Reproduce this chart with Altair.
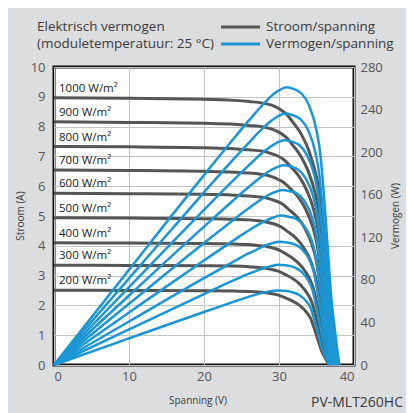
import altair as alt
import pandas as pd

FONT = "Open Sans"

irradiance = ["1000", "900", "800", "700", "600", "500", "400", "300", "200"]

v_1000 = [0, 10, 20, 24, 26, 28, 29, 30, 31, 32, 33, 34, 35, 35.5, 36, 36.5, 37, 37.5, 38]
i_1000 = [8.97, 8.95, 8.92, 8.88, 8.84, 8.78, 8.72, 8.60, 8.42, 8.10, 7.73, 7.18, 6.30, 5.60, 4.40, 3.00, 1.65, 0.80, 0]

v_900 = [0, 10, 20, 24, 26, 27.85, 28.85, 29.85, 30.85, 31.85, 32.85, 33.85, 34.85, 35.35, 35.85, 36.35, 36.85, 37.35, 37.85]
i_900 = [8.16, 8.14, 8.11, 8.08, 8.04, 7.99, 7.93, 7.83, 7.66, 7.37, 7.03, 6.53, 5.73, 5.09, 4.00, 2.73, 1.50, 0.73, 0]

v_800 = [0, 10, 20, 24, 26, 27.7, 28.7, 29.7, 30.7, 31.7, 32.7, 33.7, 34.7, 35.2, 35.7, 36.2, 36.7, 37.2, 37.7]
i_800 = [7.33, 7.32, 7.29, 7.26, 7.22, 7.18, 7.12, 7.03, 6.88, 6.62, 6.32, 5.86, 5.15, 4.57, 3.59, 2.45, 1.35, 0.65, 0]

v_700 = [0, 10, 20, 24, 26, 27.55, 28.55, 29.55, 30.55, 31.55, 32.55, 33.55, 34.55, 35.05, 35.55, 36.05, 36.55, 37.05, 37.55]
i_700 = [6.54, 6.53, 6.50, 6.47, 6.44, 6.40, 6.36, 6.27, 6.14, 5.91, 5.64, 5.23, 4.59, 4.08, 3.20, 2.18, 1.20, 0.58, 0]

v_600 = [0, 10, 20, 24, 26, 27.4, 28.4, 29.4, 30.4, 31.4, 32.4, 33.4, 34.4, 34.9, 35.4, 35.9, 36.4, 36.9, 37.4]
i_600 = [5.76, 5.75, 5.73, 5.70, 5.67, 5.64, 5.60, 5.52, 5.41, 5.20, 4.97, 4.61, 4.04, 3.59, 2.82, 1.92, 1.06, 0.51, 0]

v_500 = [0, 10, 20, 24, 26, 27.25, 28.25, 29.25, 30.25, 31.25, 32.25, 33.25, 34.25, 34.75, 35.25, 35.75, 36.25, 36.75, 37.25]
i_500 = [4.94, 4.93, 4.91, 4.89, 4.87, 4.84, 4.80, 4.74, 4.64, 4.46, 4.26, 3.95, 3.47, 3.08, 2.42, 1.65, 0.91, 0.44, 0]

v_400 = [0, 10, 20, 24, 26, 27.1, 28.1, 29.1, 30.1, 31.1, 32.1, 33.1, 34.1, 34.6, 35.1, 35.6, 36.1, 36.6, 37.1]
i_400 = [4.10, 4.09, 4.08, 4.06, 4.04, 4.01, 3.99, 3.93, 3.85, 3.70, 3.53, 3.28, 2.88, 2.56, 2.01, 1.37, 0.75, 0.36, 0]

v_300 = [0, 10, 20, 24, 26, 26.9, 27.9, 28.9, 29.9, 30.9, 31.9, 32.9, 33.9, 34.4, 34.9, 35.4, 35.9, 36.4, 36.9]
i_300 = [3.35, 3.34, 3.33, 3.32, 3.30, 3.28, 3.26, 3.21, 3.15, 3.03, 2.89, 2.68, 2.35, 2.09, 1.64, 1.12, 0.62, 0.30, 0]

v_200 = [0, 10, 20, 24, 26, 26.7, 27.7, 28.7, 29.7, 30.7, 31.7, 32.7, 33.7, 34.2, 34.7, 35.2, 35.7, 36.2, 36.7]
i_200 = [2.51, 2.50, 2.49, 2.48, 2.47, 2.46, 2.44, 2.41, 2.36, 2.27, 2.16, 2.01, 1.76, 1.57, 1.23, 0.84, 0.46, 0.22, 0]

curves = {
    "1000": (v_1000, i_1000), "900": (v_900, i_900), "800": (v_800, i_800),
    "700": (v_700, i_700), "600": (v_600, i_600), "500": (v_500, i_500),
    "400": (v_400, i_400), "300": (v_300, i_300), "200": (v_200, i_200),
}

rows = []
for irr in irradiance:
    vs, cs = curves[irr]
    for v, c in zip(vs, cs):
        rows.append({"irr": irr, "V": v, "I": c})
df = pd.DataFrame(rows)

labels_df = pd.DataFrame({
    "irr": irradiance,
    "I": [curves[k][1][0] for k in irradiance],
    "label": [k + " W/m²" for k in irradiance],
})

GRAY = "#555555"
BLUE = "#1a96d4"
TXT = "#3a3a3a"

x_enc = alt.X("V:Q", scale=alt.Scale(domain=[0, 40], nice=False),
              axis=alt.Axis(values=[0, 10, 20, 30, 40], title=None, grid=True,
                            labelPadding=5))

iv = alt.Chart(df).mark_line(color=GRAY, strokeWidth=3, interpolate="monotone").encode(
    x=x_enc,
    y=alt.Y("I:Q", scale=alt.Scale(domain=[0, 10], nice=False),
            axis=alt.Axis(values=list(range(0, 11)), title=None, grid=True,
                          orient="left", labelPadding=9)),
    detail="irr:N",
)

pv = alt.Chart(df).transform_calculate(P="datum.V * datum.I").mark_line(
    color=BLUE, strokeWidth=2.5, interpolate="monotone").encode(
    x=alt.X("V:Q"),
    y=alt.Y("P:Q", scale=alt.Scale(domain=[0, 280], nice=False),
            axis=alt.Axis(values=list(range(0, 281, 40)), title=None, grid=False,
                          orient="right", labelPadding=6)),
    detail="irr:N",
)

lab = alt.Chart(labels_df).mark_text(align="left", baseline="middle", dy=-9,
                                     font=FONT, fontSize=11.5, color="#222222").encode(
    x=alt.value(5),
    y=alt.Y("I:Q", scale=alt.Scale(domain=[0, 10], nice=False), axis=None),
    text="label:N",
)

def txt(s, x, y, size=13, align="left", angle=0, color=TXT):
    kw = dict(align=align, baseline="middle", font=FONT, fontSize=size, color=color)
    if angle:
        kw["angle"] = angle
    return alt.Chart(pd.DataFrame({"t": [s]})).mark_text(**kw).encode(
        x=alt.value(x), y=alt.value(y), text="t:N")

title1 = txt("Elektrisch vermogen", -17, -40, 13.5)
title2 = txt("(moduletemperatuur: 25 °C)", -17, -23, 13.5)
leg1 = txt("Stroom/spanning", 212, -40, 13.5)
leg2 = txt("Vermogen/spanning", 212, -23, 13.5)
rule1 = alt.Chart(pd.DataFrame({"a": [0]})).mark_rule(color=GRAY, strokeWidth=3).encode(
    x=alt.value(167), x2=alt.value(206), y=alt.value(-40))
rule2 = alt.Chart(pd.DataFrame({"a": [0]})).mark_rule(color=BLUE, strokeWidth=3).encode(
    x=alt.value(167), x2=alt.value(206), y=alt.value(-23))
ytitle_l = txt("Stroom (A)", -33, 149, 10, align="center", angle=270)
ytitle_r = txt("Vermogen (W)", 342, 149, 10, align="center", angle=270)
xtitle = txt("Spanning (V)", 144, 334, 10, align="center")
model = txt("PV-MLT260HC", 349, 336, 14, align="right")

chart = alt.layer(
    iv, pv, lab, title1, title2, leg1, leg2, rule1, rule2,
    ytitle_l, ytitle_r, xtitle, model
).resolve_scale(y="independent").properties(
    width=300, height=298,
    padding={"left": 46, "top": 59, "right": 52, "bottom": 48},
    autosize=alt.AutoSizeParams(type="none"),
    background="#dcdddf",
).configure_view(
    fill="white", stroke="#111111", strokeWidth=3
).configure_axis(
    domain=False, ticks=False, labelFont=FONT, labelFontSize=13,
    labelColor="#555555", gridColor="#c4c4c4", gridWidth=1,
)

chart.save("out.html", embed_options={"renderer": "svg", "actions": False})
